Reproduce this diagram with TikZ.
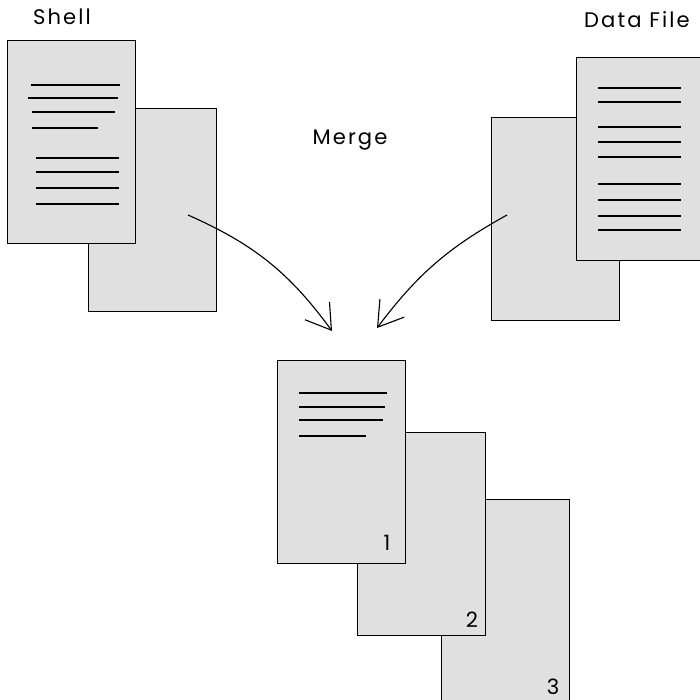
\documentclass[tikz,border=0pt]{standalone}
\usepackage{fontspec}
\setmainfont{Poppins}[LetterSpace=10]
\usetikzlibrary{arrows.meta}

\begin{document}
\begin{tikzpicture}[
    x=0.025cm, y=-0.025cm,
    page/.style={rectangle, draw, line width=0.8pt, fill=gray!24, anchor=north west,
                 minimum width=3.2cm, minimum height=5.08cm, inner sep=0pt},
    lbl/.style={font=\fontsize{15}{18}\selectfont},
    txt/.style={line width=1.1pt},
    arr/.style={-{Straight Barb[length=6mm, width=7.6mm]}, line width=0.8pt},
]
\clip (0,0) rectangle (700,700);
\fill[white] (0,0) rectangle (700,700);

% shell pages
\node[page] (shellB) at (88,108) {};
\node[page] (shellA) at (7,40) {};
\foreach \y/\a/\b in {85/31/120, 98/28/118, 112/32/115, 128/32/98,
                      158/36/119, 172/36/119, 188/36/119, 204/36/119}
  \draw[txt] (\a,\y) -- (\b,\y);
\node[lbl] (shell) at (62,17) {Shell};

% data file pages
\node[page] (dataB) at (491,117) {};
\node[page] (dataA) at (576,57) {};
\foreach \y in {88, 102, 127, 142, 157, 184, 200, 216, 230}
  \draw[txt] (598,\y) -- (681,\y);
\node[lbl] (data) at (637,20) {Data File};

\node[lbl] (merge) at (350,140) {Merge};

% merged result
\node[page] (resC) at (441,499) {};
\node[page] (resB) at (357,432) {};
\node[page] (resA) at (277,360) {};
\foreach \y/\b in {393/387, 407/385, 420/383, 436/366}
  \draw[txt] (299,\y) -- (\b,\y);
\node[lbl] (n1) at (387,543) {1};
\node[lbl] (n2) at (472,620) {2};
\node[lbl] (n3) at (553,687) {3};

\coordinate (shellpt) at (188,215);
\coordinate (datapt)  at (507,215);
\coordinate (inL) at (332,331);
\coordinate (inR) at (377,328);
\draw[arr] (shellpt) to[bend left=15] (inL);
\draw[arr] (datapt) to[bend right=12] (inR);
\end{tikzpicture}
\end{document}
